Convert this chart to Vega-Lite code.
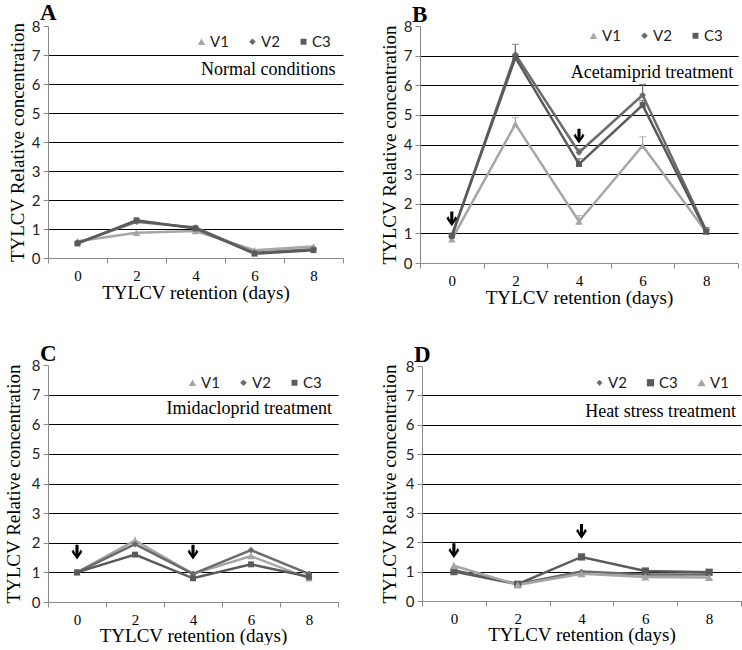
{
  "$schema": "https://vega.github.io/schema/vega-lite/v6.json",
  "padding": {"left": 4, "top": 2, "right": 0, "bottom": 0},
  "background": "white",
  "datasets": {
    "d": [
      {"panel": "A", "series": "V1", "day": "0", "value": 0.58, "err": 0.05},
      {"panel": "A", "series": "V1", "day": "2", "value": 0.87, "err": 0.05},
      {"panel": "A", "series": "V1", "day": "4", "value": 0.93, "err": 0.05},
      {"panel": "A", "series": "V1", "day": "6", "value": 0.27, "err": 0.04},
      {"panel": "A", "series": "V1", "day": "8", "value": 0.40, "err": 0.05},
      {"panel": "A", "series": "V2", "day": "0", "value": 0.52, "err": 0.04},
      {"panel": "A", "series": "V2", "day": "2", "value": 1.25, "err": 0.05},
      {"panel": "A", "series": "V2", "day": "4", "value": 1.05, "err": 0.05},
      {"panel": "A", "series": "V2", "day": "6", "value": 0.18, "err": 0.03},
      {"panel": "A", "series": "V2", "day": "8", "value": 0.30, "err": 0.03},
      {"panel": "A", "series": "C3", "day": "0", "value": 0.50, "err": 0.04},
      {"panel": "A", "series": "C3", "day": "2", "value": 1.30, "err": 0.06},
      {"panel": "A", "series": "C3", "day": "4", "value": 1.02, "err": 0.05},
      {"panel": "A", "series": "C3", "day": "6", "value": 0.15, "err": 0.03},
      {"panel": "A", "series": "C3", "day": "8", "value": 0.27, "err": 0.03},
      {"panel": "B", "series": "V1", "day": "0", "value": 0.80, "err": 0.10},
      {"panel": "B", "series": "V1", "day": "2", "value": 4.69, "err": 0.22},
      {"panel": "B", "series": "V1", "day": "4", "value": 1.40, "err": 0.20},
      {"panel": "B", "series": "V1", "day": "6", "value": 3.96, "err": 0.30},
      {"panel": "B", "series": "V1", "day": "8", "value": 1.05, "err": 0.08},
      {"panel": "B", "series": "V2", "day": "0", "value": 0.90, "err": 0.08},
      {"panel": "B", "series": "V2", "day": "2", "value": 7.04, "err": 0.34},
      {"panel": "B", "series": "V2", "day": "4", "value": 3.73, "err": 0.12},
      {"panel": "B", "series": "V2", "day": "6", "value": 5.67, "err": 0.36},
      {"panel": "B", "series": "V2", "day": "8", "value": 1.10, "err": 0.10},
      {"panel": "B", "series": "C3", "day": "0", "value": 0.92, "err": 0.08},
      {"panel": "B", "series": "C3", "day": "2", "value": 6.93, "err": 0.10},
      {"panel": "B", "series": "C3", "day": "4", "value": 3.34, "err": 0.18},
      {"panel": "B", "series": "C3", "day": "6", "value": 5.33, "err": 0.15},
      {"panel": "B", "series": "C3", "day": "8", "value": 1.06, "err": 0.08},
      {"panel": "C", "series": "V1", "day": "0", "value": 1.00, "err": 0.04},
      {"panel": "C", "series": "V1", "day": "2", "value": 2.08, "err": 0.12},
      {"panel": "C", "series": "V1", "day": "4", "value": 0.95, "err": 0.04},
      {"panel": "C", "series": "V1", "day": "6", "value": 1.55, "err": 0.05},
      {"panel": "C", "series": "V1", "day": "8", "value": 0.80, "err": 0.04},
      {"panel": "C", "series": "V2", "day": "0", "value": 1.00, "err": 0.04},
      {"panel": "C", "series": "V2", "day": "2", "value": 1.95, "err": 0.06},
      {"panel": "C", "series": "V2", "day": "4", "value": 0.95, "err": 0.04},
      {"panel": "C", "series": "V2", "day": "6", "value": 1.75, "err": 0.05},
      {"panel": "C", "series": "V2", "day": "8", "value": 0.95, "err": 0.04},
      {"panel": "C", "series": "C3", "day": "0", "value": 1.00, "err": 0.04},
      {"panel": "C", "series": "C3", "day": "2", "value": 1.60, "err": 0.05},
      {"panel": "C", "series": "C3", "day": "4", "value": 0.80, "err": 0.04},
      {"panel": "C", "series": "C3", "day": "6", "value": 1.27, "err": 0.05},
      {"panel": "C", "series": "C3", "day": "8", "value": 0.85, "err": 0.04},
      {"panel": "D", "series": "V2", "day": "0", "value": 1.05, "err": 0.05},
      {"panel": "D", "series": "V2", "day": "2", "value": 0.58, "err": 0.04},
      {"panel": "D", "series": "V2", "day": "4", "value": 1.00, "err": 0.05},
      {"panel": "D", "series": "V2", "day": "6", "value": 0.90, "err": 0.04},
      {"panel": "D", "series": "V2", "day": "8", "value": 0.90, "err": 0.04},
      {"panel": "D", "series": "C3", "day": "0", "value": 1.00, "err": 0.04},
      {"panel": "D", "series": "C3", "day": "2", "value": 0.57, "err": 0.04},
      {"panel": "D", "series": "C3", "day": "4", "value": 1.50, "err": 0.06},
      {"panel": "D", "series": "C3", "day": "6", "value": 1.02, "err": 0.04},
      {"panel": "D", "series": "C3", "day": "8", "value": 0.98, "err": 0.04},
      {"panel": "D", "series": "V1", "day": "0", "value": 1.20, "err": 0.12},
      {"panel": "D", "series": "V1", "day": "2", "value": 0.55, "err": 0.04},
      {"panel": "D", "series": "V1", "day": "4", "value": 0.93, "err": 0.04},
      {"panel": "D", "series": "V1", "day": "6", "value": 0.82, "err": 0.04},
      {"panel": "D", "series": "V1", "day": "8", "value": 0.80, "err": 0.04}
    ],
    "arrows": [
      {"panel": "B", "day": "0", "value": 1.48},
      {"panel": "B", "day": "4", "value": 4.27},
      {"panel": "C", "day": "0", "value": 1.67},
      {"panel": "C", "day": "4", "value": 1.67},
      {"panel": "D", "day": "0", "value": 1.70},
      {"panel": "D", "day": "4", "value": 2.36}
    ],
    "notes": [
      {"panel": "A", "day": "8", "value": 6.48, "label": "Normal conditions"},
      {"panel": "B", "day": "8", "value": 6.40, "label": "Acetamiprid  treatment"},
      {"panel": "C", "day": "8", "value": 6.51, "label": "Imidacloprid  treatment"},
      {"panel": "D", "day": "8", "value": 6.45, "label": "Heat stress treatment"}
    ]
  },
  "config": {
    "view": {"stroke": null},
    "axisX": {
      "tickBand": "extent", "domainColor": "#8a8a8a", "tickColor": "#8a8a8a", "tickSize": 5,
      "labelFont": "Liberation Serif", "labelFontSize": 15, "labelColor": "black", "labelAngle": 0, "labelPadding": 5,
      "titleFont": "Liberation Serif", "titleFontSize": 19, "titleFontWeight": "normal", "titleColor": "black", "titlePadding": 0,
      "grid": false
    },
    "axisY": {
      "domainColor": "#8a8a8a", "tickColor": "#8a8a8a", "tickSize": 5,
      "labelFont": "Lato", "labelFontSize": 15, "labelColor": "#222", "labelPadding": 3, "labelOverlap": false,
      "titleFont": "Liberation Serif", "titleFontSize": 19, "titleFontWeight": "normal", "titleColor": "black", "titlePadding": 4
    },
    "title": {"font": "Liberation Serif", "fontSize": 23, "fontWeight": "bold", "color": "black", "anchor": "start", "frame": "group", "offset": -8, "dx": -8},
    "legend": {"orient": "none", "direction": "horizontal", "padding": 0, "labelFont": "Lato", "labelFontSize": 15, "labelColor": "#222", "symbolSize": 576, "symbolStrokeWidth": 0, "columnPadding": 16, "labelOffset": 1, "title": null}
  },
  "columns": 2,
  "align": "none",
  "spacing": {"row": 36, "column": 36},
  "resolve": {"scale": {"color": "independent", "shape": "independent", "size": "independent"}, "legend": {"color": "independent"}},
  "concat": [
        {
          "width": 295, "height": 232,
          "title": "A",
          "encoding": {
            "x": {"field": "day", "type": "ordinal", "scale": {"type": "band", "domain": ["0","2","4","6","8"], "paddingInner": 0, "paddingOuter": 0}, "axis": {"title": "TYLCV  retention  (days)"}},
            "y": {"field": "value", "type": "quantitative", "scale": {"domain": [0, 8], "nice": false}, "axis": {"values": [0,1,2,3,4,5,6,7,8], "title": "TYLCV  Relative  concentration", "grid": true, "gridColor": {"condition": {"test": "datum.value == 0 || datum.value == 8", "value": "transparent"}, "value": "black"}, "gridWidth": 1.2}}
          },
          "layer": [
            {"data": {"name": "d"}, "transform": [{"filter": "datum.panel == 'A'"}], "mark": {"type": "line", "strokeWidth": 2.5},
             "encoding": {"color": {"field": "series", "type": "nominal", "title": null, "scale": {"domain": ["V1","V2","C3"], "range": ["#a6a6a6", "#6b6b6b", "#5a5a5a"]},
               "legend": {"orient": "none", "legendX": 146, "legendY": 8, "direction": "horizontal", "symbolSize": 576, "encode": {"symbols": {"update": {
                 "shape": {"signal": "datum.value == 'V1' ? 'M-1,-0.1L-0.126,-0.1L0,-0.32L0.126,-0.1L1,-0.1L1,0.1L0.24,0.1L0.32,0.24L-0.32,0.24L-0.24,0.1L-1,0.1Z' : datum.value == 'V2' ? 'M-1,-0.1L-0.12,-0.1L0,-0.22L0.12,-0.1L1,-0.1L1,0.1L0.12,0.1L0,0.22L-0.12,0.1L-1,0.1Z' : 'M-1,-0.1L-0.25,-0.1L-0.25,-0.25L0.25,-0.25L0.25,-0.1L1,-0.1L1,0.1L0.25,0.1L0.25,0.25L-0.25,0.25L-0.25,0.1L-1,0.1Z'"},
                 "fill": {"signal": "datum.value == 'V1' ? '#a6a6a6' : datum.value == 'V2' ? '#6b6b6b' : '#5a5a5a'"},
                 "fillOpacity": {"value": 1}, "strokeWidth": {"value": 0}, "size": {"value": 576}, "opacity": {"value": 1}}}}}}}},
            {"data": {"name": "d"}, "transform": [{"filter": "datum.panel == 'A'"}, {"calculate": "datum.value + datum.err", "as": "hi"}], "mark": {"type": "rule", "strokeWidth": 1.2},
             "encoding": {"y2": {"field": "hi"}, "color": {"field": "series", "type": "nominal"}}},
            {"data": {"name": "d"}, "transform": [{"filter": "datum.panel == 'A'"}, {"calculate": "datum.series", "as": "sym"}], "mark": {"type": "point", "filled": true, "opacity": 1},
             "encoding": {
               "color": {"field": "series", "type": "nominal"},
               "shape": {"field": "sym", "type": "nominal", "scale": {"domain": ["V1","V2","C3"], "range": ["triangle-up", "diamond", "square"]}, "legend": null},
               "size": {"field": "sym", "type": "nominal", "scale": {"domain": ["V1","V2","C3"], "range": [55, 35, 70]}, "legend": null}}},
            {"data": {"name": "notes"}, "transform": [{"filter": "datum.panel == 'A'"}], "mark": {"type": "text", "align": "right", "baseline": "middle", "dx": 22, "font": "Liberation Serif", "fontSize": 18, "color": "black"},
             "encoding": {"text": {"field": "label"}}}
          ]
        },
        {
          "width": 318, "height": 237,
          "title": "B",
          "encoding": {
            "x": {"field": "day", "type": "ordinal", "scale": {"type": "band", "domain": ["0","2","4","6","8"], "paddingInner": 0, "paddingOuter": 0}, "axis": {"title": "TYLCV  retention  (days)"}},
            "y": {"field": "value", "type": "quantitative", "scale": {"domain": [0, 8], "nice": false}, "axis": {"values": [0,1,2,3,4,5,6,7,8], "title": "TYLCV  Relative  concentration", "grid": true, "gridColor": {"condition": {"test": "datum.value == 0 || datum.value == 8", "value": "transparent"}, "value": "black"}, "gridWidth": 1.2}}
          },
          "layer": [
            {"data": {"name": "d"}, "transform": [{"filter": "datum.panel == 'B'"}], "mark": {"type": "line", "strokeWidth": 2.5},
             "encoding": {"color": {"field": "series", "type": "nominal", "title": null, "scale": {"domain": ["V1","V2","C3"], "range": ["#a6a6a6", "#6b6b6b", "#5a5a5a"]},
               "legend": {"orient": "none", "legendX": 166, "legendY": 2, "direction": "horizontal", "symbolSize": 576, "encode": {"symbols": {"update": {
                 "shape": {"signal": "datum.value == 'V1' ? 'M-1,-0.1L-0.126,-0.1L0,-0.32L0.126,-0.1L1,-0.1L1,0.1L0.24,0.1L0.32,0.24L-0.32,0.24L-0.24,0.1L-1,0.1Z' : datum.value == 'V2' ? 'M-1,-0.1L-0.12,-0.1L0,-0.22L0.12,-0.1L1,-0.1L1,0.1L0.12,0.1L0,0.22L-0.12,0.1L-1,0.1Z' : 'M-1,-0.1L-0.25,-0.1L-0.25,-0.25L0.25,-0.25L0.25,-0.1L1,-0.1L1,0.1L0.25,0.1L0.25,0.25L-0.25,0.25L-0.25,0.1L-1,0.1Z'"},
                 "fill": {"signal": "datum.value == 'V1' ? '#a6a6a6' : datum.value == 'V2' ? '#6b6b6b' : '#5a5a5a'"},
                 "fillOpacity": {"value": 1}, "strokeWidth": {"value": 0}, "size": {"value": 576}, "opacity": {"value": 1}}}}}}}},
            {"data": {"name": "d"}, "transform": [{"filter": "datum.panel == 'B'"}, {"calculate": "datum.value + datum.err", "as": "hi"}], "mark": {"type": "rule", "strokeWidth": 1.2},
             "encoding": {"y2": {"field": "hi"}, "color": {"field": "series", "type": "nominal"}}},
            {"data": {"name": "d"}, "transform": [{"filter": "datum.panel == 'B'"}, {"calculate": "datum.value + datum.err", "as": "hi"}], "mark": {"type": "tick", "thickness": 1.2, "size": 7},
             "encoding": {"y": {"field": "hi", "type": "quantitative"}, "color": {"field": "series", "type": "nominal"}}},
            {"data": {"name": "d"}, "transform": [{"filter": "datum.panel == 'B'"}, {"calculate": "datum.series", "as": "sym"}], "mark": {"type": "point", "filled": true, "opacity": 1},
             "encoding": {
               "color": {"field": "series", "type": "nominal"},
               "shape": {"field": "sym", "type": "nominal", "scale": {"domain": ["V1","V2","C3"], "range": ["triangle-up", "diamond", "square"]}, "legend": null},
               "size": {"field": "sym", "type": "nominal", "scale": {"domain": ["V1","V2","C3"], "range": [55, 35, 70]}, "legend": null}}},
            {"data": {"name": "arrows"}, "transform": [{"filter": "datum.panel == 'B'"}], "mark": {"type": "point", "filled": true, "color": "black", "opacity": 1, "size": 240, "shape": "M-0.2,-1H0.2V0.15L0.45,-0.38L0.7,-0.1L0,0.9L-0.7,-0.1L-0.45,-0.38L-0.2,0.15Z"},
             "encoding": {}},
            {"data": {"name": "notes"}, "transform": [{"filter": "datum.panel == 'B'"}], "mark": {"type": "text", "align": "right", "baseline": "middle", "dx": 27, "font": "Liberation Serif", "fontSize": 18, "color": "black"},
             "encoding": {"text": {"field": "label"}}}
          ]
        },
        {
          "width": 290, "height": 237,
          "title": "C",
          "encoding": {
            "x": {"field": "day", "type": "ordinal", "scale": {"type": "band", "domain": ["0","2","4","6","8"], "paddingInner": 0, "paddingOuter": 0}, "axis": {"title": "TYLCV  retention  (days)", "titlePadding": -1}},
            "y": {"field": "value", "type": "quantitative", "scale": {"domain": [0, 8], "nice": false}, "axis": {"values": [0,1,2,3,4,5,6,7,8], "title": "TYLCV  Relative  concentration", "titlePadding": 8, "grid": true, "gridColor": {"condition": {"test": "datum.value == 0 || datum.value == 8", "value": "transparent"}, "value": "black"}, "gridWidth": 1.2}}
          },
          "layer": [
            {"data": {"name": "d"}, "transform": [{"filter": "datum.panel == 'C'"}], "mark": {"type": "line", "strokeWidth": 2.5},
             "encoding": {"color": {"field": "series", "type": "nominal", "title": null, "scale": {"domain": ["V1","V2","C3"], "range": ["#a6a6a6", "#6b6b6b", "#5a5a5a"]},
               "legend": {"orient": "none", "legendX": 137, "legendY": 10, "direction": "horizontal", "symbolSize": 576, "encode": {"symbols": {"update": {
                 "shape": {"signal": "datum.value == 'V1' ? 'M-1,-0.1L-0.126,-0.1L0,-0.32L0.126,-0.1L1,-0.1L1,0.1L0.24,0.1L0.32,0.24L-0.32,0.24L-0.24,0.1L-1,0.1Z' : datum.value == 'V2' ? 'M-1,-0.1L-0.12,-0.1L0,-0.22L0.12,-0.1L1,-0.1L1,0.1L0.12,0.1L0,0.22L-0.12,0.1L-1,0.1Z' : 'M-1,-0.1L-0.25,-0.1L-0.25,-0.25L0.25,-0.25L0.25,-0.1L1,-0.1L1,0.1L0.25,0.1L0.25,0.25L-0.25,0.25L-0.25,0.1L-1,0.1Z'"},
                 "fill": {"signal": "datum.value == 'V1' ? '#a6a6a6' : datum.value == 'V2' ? '#6b6b6b' : '#5a5a5a'"},
                 "fillOpacity": {"value": 1}, "strokeWidth": {"value": 0}, "size": {"value": 576}, "opacity": {"value": 1}}}}}}}},
            {"data": {"name": "d"}, "transform": [{"filter": "datum.panel == 'C'"}, {"calculate": "datum.value + datum.err", "as": "hi"}], "mark": {"type": "rule", "strokeWidth": 1.2},
             "encoding": {"y2": {"field": "hi"}, "color": {"field": "series", "type": "nominal"}}},
            {"data": {"name": "d"}, "transform": [{"filter": "datum.panel == 'C'"}, {"calculate": "datum.series", "as": "sym"}], "mark": {"type": "point", "filled": true, "opacity": 1},
             "encoding": {
               "color": {"field": "series", "type": "nominal"},
               "shape": {"field": "sym", "type": "nominal", "scale": {"domain": ["V1","V2","C3"], "range": ["triangle-up", "diamond", "square"]}, "legend": null},
               "size": {"field": "sym", "type": "nominal", "scale": {"domain": ["V1","V2","C3"], "range": [55, 35, 70]}, "legend": null}}},
            {"data": {"name": "arrows"}, "transform": [{"filter": "datum.panel == 'C'"}], "mark": {"type": "point", "filled": true, "color": "black", "opacity": 1, "size": 240, "shape": "M-0.2,-1H0.2V0.15L0.45,-0.38L0.7,-0.1L0,0.9L-0.7,-0.1L-0.45,-0.38L-0.2,0.15Z"},
             "encoding": {}},
            {"data": {"name": "notes"}, "transform": [{"filter": "datum.panel == 'C'"}], "mark": {"type": "text", "align": "right", "baseline": "middle", "dx": 23, "font": "Liberation Serif", "fontSize": 18, "color": "black"},
             "encoding": {"text": {"field": "label"}}}
          ]
        },
        {
          "width": 319, "height": 235,
          "title": "D",
          "encoding": {
            "x": {"field": "day", "type": "ordinal", "scale": {"type": "band", "domain": ["0","2","4","6","8"], "paddingInner": 0, "paddingOuter": 0}, "axis": {"title": "TYLCV  retention  (days)", "titlePadding": -1}},
            "y": {"field": "value", "type": "quantitative", "scale": {"domain": [0, 8], "nice": false}, "axis": {"values": [0,1,2,3,4,5,6,7,8], "title": "TYLCV  Relative  concentration", "titlePadding": 6, "grid": true, "gridColor": {"condition": {"test": "datum.value == 0 || datum.value == 8", "value": "transparent"}, "value": "black"}, "gridWidth": 1.2}}
          },
          "layer": [
            {"data": {"name": "d"}, "transform": [{"filter": "datum.panel == 'D'"}], "mark": {"type": "line", "strokeWidth": 2.5},
             "encoding": {"color": {"field": "series", "type": "nominal", "title": null, "scale": {"domain": ["V2","C3","V1"], "range": ["#6b6b6b", "#5a5a5a", "#a6a6a6"]},
               "legend": {"orient": "none", "legendX": 170, "legendY": 9, "direction": "horizontal", "symbolSize": 576, "encode": {"symbols": {"update": {
                 "shape": {"signal": "datum.value == 'V1' ? 'M-1,-0.1L-0.126,-0.1L0,-0.32L0.126,-0.1L1,-0.1L1,0.1L0.24,0.1L0.32,0.24L-0.32,0.24L-0.24,0.1L-1,0.1Z' : datum.value == 'V2' ? 'M-1,-0.1L-0.12,-0.1L0,-0.22L0.12,-0.1L1,-0.1L1,0.1L0.12,0.1L0,0.22L-0.12,0.1L-1,0.1Z' : 'M-1,-0.1L-0.25,-0.1L-0.25,-0.25L0.25,-0.25L0.25,-0.1L1,-0.1L1,0.1L0.25,0.1L0.25,0.25L-0.25,0.25L-0.25,0.1L-1,0.1Z'"},
                 "fill": {"signal": "datum.value == 'V1' ? '#a6a6a6' : datum.value == 'V2' ? '#6b6b6b' : '#5a5a5a'"},
                 "fillOpacity": {"value": 1}, "strokeWidth": {"value": 0}, "size": {"value": 576}, "opacity": {"value": 1}}}}}}}},
            {"data": {"name": "d"}, "transform": [{"filter": "datum.panel == 'D'"}, {"calculate": "datum.value + datum.err", "as": "hi"}], "mark": {"type": "rule", "strokeWidth": 1.2},
             "encoding": {"y2": {"field": "hi"}, "color": {"field": "series", "type": "nominal"}}},
            {"data": {"name": "d"}, "transform": [{"filter": "datum.panel == 'D'"}, {"calculate": "datum.series", "as": "sym"}], "mark": {"type": "point", "filled": true, "opacity": 1},
             "encoding": {
               "color": {"field": "series", "type": "nominal"},
               "shape": {"field": "sym", "type": "nominal", "scale": {"domain": ["V2","C3","V1"], "range": ["diamond", "square", "triangle-up"]}, "legend": null},
               "size": {"field": "sym", "type": "nominal", "scale": {"domain": ["V2","C3","V1"], "range": [35, 70, 55]}, "legend": null}}},
            {"data": {"name": "arrows"}, "transform": [{"filter": "datum.panel == 'D'"}], "mark": {"type": "point", "filled": true, "color": "black", "opacity": 1, "size": 240, "shape": "M-0.2,-1H0.2V0.15L0.45,-0.38L0.7,-0.1L0,0.9L-0.7,-0.1L-0.45,-0.38L-0.2,0.15Z"},
             "encoding": {}},
            {"data": {"name": "notes"}, "transform": [{"filter": "datum.panel == 'D'"}], "mark": {"type": "text", "align": "right", "baseline": "middle", "dx": 27, "font": "Liberation Serif", "fontSize": 18, "color": "black"},
             "encoding": {"text": {"field": "label"}}}
          ]
        }
  ]
}
